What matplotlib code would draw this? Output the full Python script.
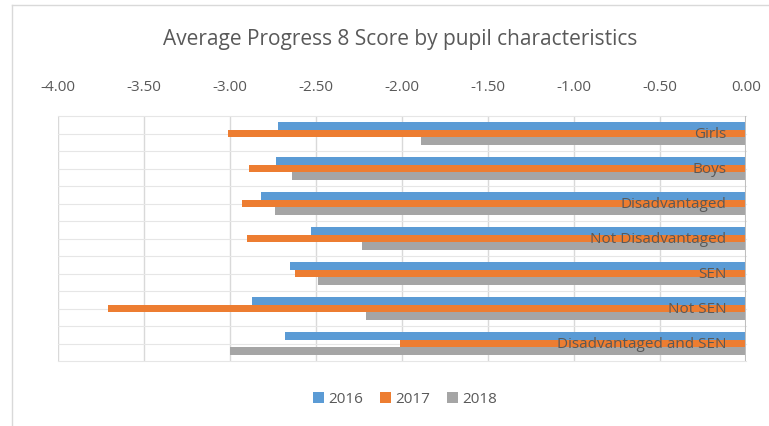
import matplotlib
matplotlib.use("Agg")
import matplotlib.pyplot as plt
from matplotlib.lines import Line2D
import numpy as np

plt.rcParams['font.family'] = ['Open Sans', 'DejaVu Sans']

# Data
categories = ["Girls", "Boys", "Disadvantaged", "Not Disadvantaged", "SEN",
              "Not SEN", "Disadvantaged and SEN"]
scores_2016 = [-2.72, -2.73, -2.82, -2.53, -2.65, -2.87, -2.68]
scores_2017 = [-3.01, -2.89, -2.93, -2.90, -2.62, -3.71, -2.01]
scores_2018 = [-1.89, -2.64, -2.74, -2.23, -2.49, -2.21, -3.00]
years = ["2016", "2017", "2018"]
colors = ["#5B9BD5", "#ED7D31", "#A5A5A5"]
xticks = [-4.0, -3.5, -3.0, -2.5, -2.0, -1.5, -1.0, -0.5, 0.0]

text_col = "#595959"
grid_col = "#D9D9D9"

fig = plt.figure(figsize=(7.69, 4.27), dpi=100)
ax = fig.add_axes([58 / 769, 1 - 362 / 427, (746 - 58) / 769, (362 - 117) / 427])

n = len(categories)
pos = np.arange(n)[::-1]  # Girls at the top
h = 0.21
for k, (vals, lab, c) in enumerate(zip([scores_2016, scores_2017, scores_2018], years, colors)):
    ax.barh(pos + (1 - k) * h, vals, height=h, color=c, label=lab, zorder=3)

ax.set_xlim(-4, 0)
ax.set_ylim(-0.5, n - 0.5)

# gridlines: vertical at each tick, horizontal at every half category
for x in xticks[:-1]:
    ax.axvline(x, color=grid_col, lw=1, zorder=1)
for y in np.arange(-0.5, n, 0.5):
    ax.axhline(y, color="#E6E6E6", lw=0.8, zorder=1, clip_on=False)
ax.axvline(0, color="#BFBFBF", lw=1.5, zorder=4)

for s in ax.spines.values():
    s.set_visible(False)

ax.xaxis.tick_top()
ax.set_xticks(xticks)
ax.set_xticklabels([f"{x:.2f}" for x in xticks], color=text_col, fontsize=11)
ax.tick_params(axis="x", length=0, pad=16)
ax.set_yticks([])

for p, name in zip(pos, categories):
    ax.annotate(name, xy=(0, p), xytext=(-14, 0), textcoords="offset points",
                ha="right", va="center", color=text_col, fontsize=11, zorder=5)

fig.text(400 / 769, 1 - 40 / 427, "Average Progress 8 Score by pupil characteristics",
         ha="center", va="center", color=text_col, fontsize=15)

fig.legend(loc="center", bbox_to_anchor=(405 / 769, 1 - 400 / 427), ncol=3,
           frameon=False, fontsize=11, labelcolor=text_col, handlelength=0.7,
           handleheight=0.7, handletextpad=0.3, columnspacing=1.1)

# outer chart border
fig.add_artist(Line2D([12 / 769, 12 / 769], [0, 1 - 6 / 427], color="#D9D9D9", lw=1))
fig.add_artist(Line2D([12 / 769, 1], [1 - 6 / 427, 1 - 6 / 427], color="#D9D9D9", lw=1))

fig.savefig("out.png", dpi=100)
